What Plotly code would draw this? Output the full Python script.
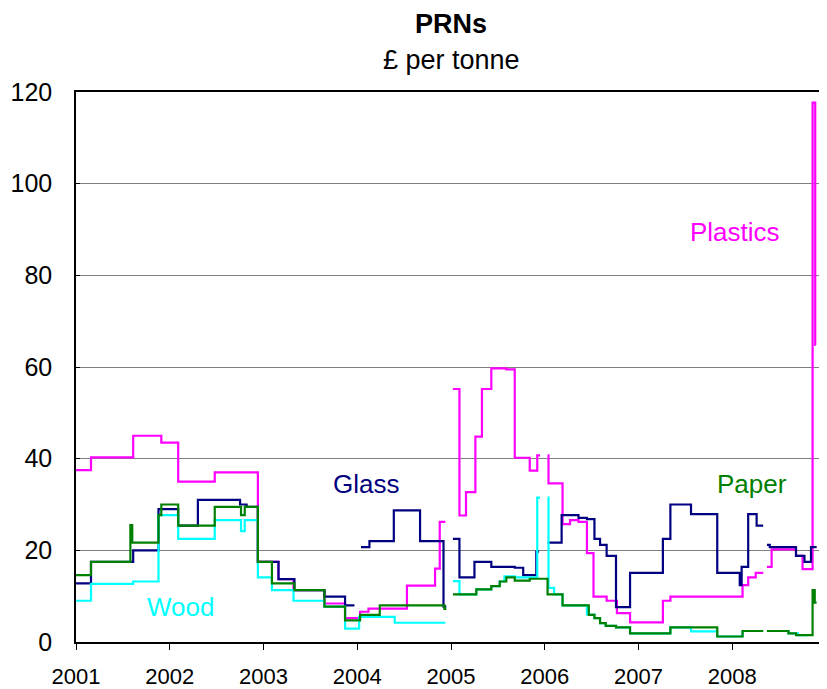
import plotly.graph_objects as go

# Decimal-year breakpoints (step series, value holds until next breakpoint); None = gap
plastics_x = [2001.0, 2001.16, 2001.61, 2001.91, 2002.09, 2002.48, 2002.94, 2003.16, 2003.32, 2003.65,
              2003.87, 2004.03, 2004.12, 2004.53, 2004.83, 2004.88, 2004.94, 2004.97,
              2005.02, 2005.09, 2005.16, 2005.26, 2005.33, 2005.43, 2005.59, 2005.68, 2005.84, 2005.92,
              2005.95, 2005.99,
              2006.03, 2006.04, 2006.19, 2006.27, 2006.36, 2006.45, 2006.52, 2006.66, 2006.77, 2006.91,
              2007.26, 2007.34, 2008.11, 2008.17, 2008.25, 2008.33, 2008.35,
              2008.37, 2008.42, 2008.68, 2008.75, 2008.857, 2008.885, 2008.89]
plastics_y = [37.5, 40.3, 45.0, 43.5, 35.0, 37.0, 17.5, 13.7, 11.3, 8.4,
              5.2, 6.6, 7.3, 12.3, 16.0, 26.2, 26.2, None,
              55.2, 27.6, 32.7, 44.8, 55.2, 59.7, 59.5, 40.2, 37.4, 40.7,
              40.7, None,
              40.7, 34.6, 25.7, 26.6, 26.2, 19.4, 9.9, 9.0, 6.3, 4.3,
              9.0, 9.9, 12.4, 14.1, 15.1, 15.1, None,
              16.4, 20.2, 18.8, 15.9, 117.7, 64.8, 64.8]

glass_x = [2001.0, 2001.16, 2001.61, 2001.88, 2002.09, 2002.30, 2002.75, 2002.82, 2002.94, 2003.16,
           2003.33, 2003.65, 2003.87, 2003.97, 2004.0,
           2004.04, 2004.13, 2004.39, 2004.67, 2004.92, 2004.95, 2004.98,
           2005.02, 2005.09, 2005.25, 2005.43, 2005.68, 2005.77, 2005.91, 2005.94, 2005.98,
           2006.03, 2006.18, 2006.36, 2006.45, 2006.53, 2006.59, 2006.66, 2006.76, 2006.91, 2007.26,
           2007.34, 2007.56, 2007.84, 2008.08, 2008.10, 2008.17, 2008.26, 2008.33, 2008.35,
           2008.37, 2008.40, 2008.68, 2008.77, 2008.84, 2008.90]
glass_y = [12.8, 17.5, 20.0, 29.0, 25.4, 31.0, 30.0, 29.5, 17.5, 13.7,
           11.3, 9.9, 8.0, 8.0, None,
           20.7, 22.0, 28.7, 22.0, 7.7, 7.7, None,
           22.5, 14.1, 17.5, 16.4, 16.2, 14.6, 19.7, 19.7, None,
           21.7, 27.7, 27.1, 26.8, 22.5, 21.2, 18.8, 7.6, 15.1, 22.5,
           30.0, 27.9, 15.1, 12.4, 16.4, 27.9, 25.4, 25.4, None,
           21.2, 20.7, 18.8, 17.5, 20.7, 20.7]

wood_x = [2001.0, 2001.16, 2001.61, 2001.88, 2002.09, 2002.48, 2002.76, 2002.80, 2002.94, 2003.09,
          2003.32, 2003.65, 2003.87, 2004.02, 2004.40, 2004.94, 2004.97,
          2005.02, 2005.09, 2005.27, 2005.43, 2005.52, 2005.57, 2005.68, 2005.92, 2005.95, 2005.99,
          2006.03, 2006.04, 2006.10, 2006.19, 2006.45, 2006.53, 2006.59, 2006.65, 2006.76, 2006.91,
          2007.34, 2007.56, 2007.84, 2008.11, 2008.33, 2008.35,
          2008.37, 2008.60, 2008.70, 2008.80]
wood_y = [9.0, 12.7, 13.2, 27.7, 22.5, 26.6, 24.2, 26.6, 14.1, 11.3,
          9.0, 7.7, 2.9, 5.5, 4.2, 4.2, None,
          13.3, 10.4, 11.5, 12.2, 13.2, 14.3, 14.1, 31.5, 31.5, None,
          31.5, 11.8, 10.4, 8.0, 6.0, 5.2, 4.1, 3.5, 3.2, 1.9,
          3.2, 2.3, 1.2, 2.4, 2.4, None,
          2.4, 1.9, 1.5, 1.5]

paper_x = [2001.0, 2001.16, 2001.58, 2001.60, 2001.88, 2001.91, 2002.09, 2002.48, 2002.76, 2002.80,
           2002.94, 2003.09, 2003.33, 2003.65, 2003.87, 2004.03, 2004.24, 2004.93, 2004.95, 2004.98,
           2005.02, 2005.27, 2005.43, 2005.52, 2005.59, 2005.68, 2005.84, 2006.03, 2006.19, 2006.47,
           2006.53, 2006.59, 2006.65, 2006.76, 2006.91, 2007.34, 2007.84, 2008.11, 2008.33, 2008.35,
           2008.37, 2008.60, 2008.68, 2008.857, 2008.88, 2008.90]
paper_y = [14.6, 17.5, 25.5, 21.7, 27.7, 30.0, 25.4, 29.5, 27.7, 29.5,
           17.5, 12.8, 11.3, 7.7, 4.7, 5.9, 8.0, 7.2, 7.2, None,
           10.4, 11.5, 12.2, 13.2, 14.1, 13.4, 13.8, 10.4, 8.0, 5.9,
           5.2, 4.1, 3.5, 3.2, 1.9, 3.2, 1.2, 2.4, 2.4, None,
           2.4, 1.9, 1.5, 11.3, 8.6, 8.6]

year_ticks = [2001, 2002, 2003, 2004, 2005, 2006, 2007, 2008]
year_labels = ["2001", "2002", "2003", "2004", "2005", "2006", "2007", "2008"]
y_ticks = [0, 20, 40, 60, 80, 100, 120]

FONT = "Liberation Sans, Arial, sans-serif"

fig = go.Figure()
series = [
    ("Plastics", plastics_x, plastics_y, "#FF00FF"),
    ("Glass", glass_x, glass_y, "#000080"),
    ("Wood", wood_x, wood_y, "#00FFFF"),
    ("Paper", paper_x, paper_y, "#008000"),
]
for name, xs, ys, col in series:
    fig.add_trace(go.Scatter(x=xs, y=ys, mode="lines", name=name, line_shape="hv",
                             connectgaps=False, line=dict(color=col, width=2.2)))

labels = [
    ("Plastics", 2008.03, 89.5, "#FF00FF"),
    ("Glass", 2004.09, 34.5, "#000080"),
    ("Paper", 2008.21, 34.5, "#008000"),
    ("Wood", 2002.11, 7.6, "#00FFFF"),
]
for txt, x, y, col in labels:
    fig.add_annotation(x=x, y=y, text=txt, showarrow=False,
                       font=dict(family=FONT, size=26, color=col))

fig.add_annotation(x=0.5, y=1.1236, xref="paper", yref="paper", text="<b>PRNs</b>",
                   xanchor="center", yanchor="middle",
                   showarrow=False, font=dict(family=FONT, size=27, color="black"))
fig.add_annotation(x=0.5, y=1.058, xref="paper", yref="paper", text="£ per tonne",
                   xanchor="center", yanchor="middle",
                   showarrow=False, font=dict(family=FONT, size=27, color="black"))

# page body has an 8px margin: shrink the figure so the plot area lands where the reference has it
fig.update_layout(
    width=819, height=681,
    margin=dict(l=68, r=1, t=84, b=47, autoexpand=False),
    paper_bgcolor="white", plot_bgcolor="white",
    showlegend=False,
    font=dict(family=FONT, color="black"),
)
fig.update_xaxes(range=[2001, 2009], tickvals=year_ticks, ticktext=year_labels,
                 showgrid=False, zeroline=False, showline=True, linecolor="black", linewidth=1.5,
                 mirror=True, ticks="outside", ticklen=6, tickcolor="black", automargin=False,
                 tickfont=dict(family=FONT, size=22, color="black"), ticklabelstandoff=8)
fig.update_yaxes(range=[0, 120], tickvals=y_ticks, showgrid=True, gridcolor="#808080", gridwidth=1.3,
                 zeroline=False, showline=True, linecolor="black", linewidth=1.5,
                 ticks="inside", ticklen=4, tickcolor="black", automargin=False,
                 tickfont=dict(family=FONT, size=25, color="black"), ticklabelstandoff=17)

fig.write_html("out.html")
